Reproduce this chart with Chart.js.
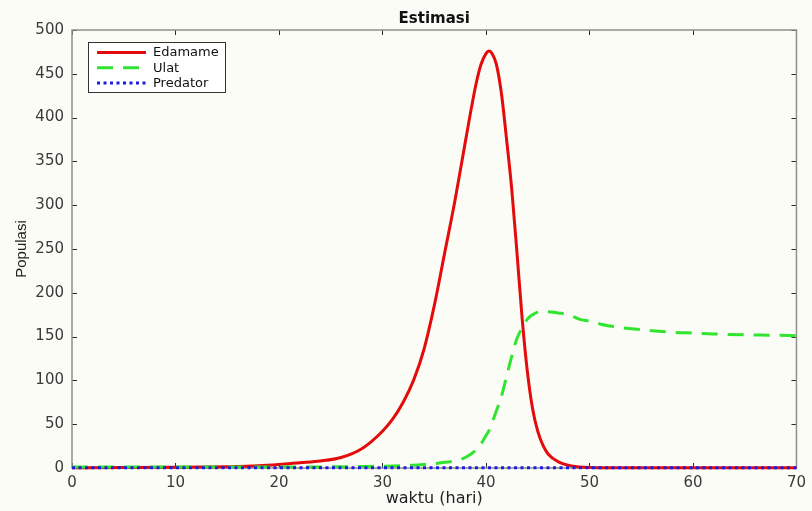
<!DOCTYPE html>
<html>
<head>
<meta charset="utf-8">
<script src="https://cdn.jsdelivr.net/npm/chart.js@4.4.0/dist/chart.umd.min.js"></script>
<style>
  html, body { margin: 0; padding: 0; background: #fcfcf7; }
  #wrap { width: 812px; height: 511px; }
</style>
</head>
<body>
<div id="wrap"><canvas id="grafik"></canvas></div>
<script>
// waktu (hari) dan populasi tiap spesies
var waktu = [0, 5, 10, 15, 18, 20, 22, 24, 26, 28, 30, 31, 32, 33, 34, 35, 36, 37, 38, 39, 39.5, 40, 40.3, 40.6, 41, 41.5, 42, 42.5, 43, 43.5, 44, 44.5, 45, 45.5, 46, 47, 48, 49, 50, 52, 55, 58, 60, 62, 65, 68, 70];
var edamame = [0.3, 0.5, 0.8, 1.5, 2.5, 4, 6, 8, 12, 22, 42, 56, 75, 100, 135, 185, 245, 305, 372, 436, 460, 473, 476, 473, 461, 427, 374, 317, 245, 170, 110, 68, 42, 26, 16, 7, 3, 1.2, 0.6, 0.4, 0.3, 0.3, 0.3, 0.3, 0.3, 0.3, 0.3];
var ulat = [1, 1, 1, 1, 1, 1, 1, 1.2, 1.4, 1.7, 2, 2.3, 2.7, 3.2, 4, 5, 6.5, 8, 12, 20, 27, 37, 43, 52, 65, 82, 105, 128, 148, 160, 170, 175, 178, 179, 178.5, 177, 175, 170, 167.5, 162, 158, 155, 154, 153, 152, 151.5, 151];
var predator = [0.3, 0.3, 0.3, 0.3, 0.3, 0.3, 0.3, 0.3, 0.3, 0.3, 0.3, 0.3, 0.3, 0.3, 0.3, 0.3, 0.3, 0.3, 0.3, 0.3, 0.3, 0.3, 0.3, 0.3, 0.3, 0.3, 0.3, 0.3, 0.3, 0.3, 0.3, 0.3, 0.3, 0.3, 0.3, 0.3, 0.3, 0.3, 0.3, 0.3, 0.3, 0.3, 0.3, 0.3, 0.3, 0.3, 0.3];

var xTicks = [0, 10, 20, 30, 40, 50, 60, 70];
var yTicks = [0, 50, 100, 150, 200, 250, 300, 350, 400, 450, 500];

function toPoints(ys) {
  return waktu.map(function(t, i) { return { x: t, y: ys[i] }; });
}

var tickFont = { family: 'DejaVu Sans', size: 15 };
var textColor = '#3a3a3a';

// kotak sumbu dengan tick ke dalam, judul dan legenda ala MATLAB
var kotakSumbu = {
  id: 'kotakSumbu',
  beforeDatasetsDraw: function(chart) {
    var ctx = chart.ctx, a = chart.chartArea;
    var sx = chart.scales.x, sy = chart.scales.y;
    ctx.save();
    ctx.strokeStyle = '#2b2b2b';
    ctx.lineWidth = 1;
    xTicks.forEach(function(v) {
      var px = Math.round(sx.getPixelForValue(v)) + 0.5;
      ctx.beginPath();
      ctx.moveTo(px, a.bottom); ctx.lineTo(px, a.bottom - 5);
      ctx.moveTo(px, a.top); ctx.lineTo(px, a.top + 5);
      ctx.stroke();
    });
    yTicks.forEach(function(v) {
      var py = Math.round(sy.getPixelForValue(v)) + 0.5;
      ctx.beginPath();
      ctx.moveTo(a.left, py); ctx.lineTo(a.left + 5, py);
      ctx.moveTo(a.right, py); ctx.lineTo(a.right - 5, py);
      ctx.stroke();
    });
    ctx.strokeStyle = '#8e8e8e';
    ctx.lineWidth = 1.5;
    ctx.strokeRect(a.left, a.top, a.right - a.left, a.bottom - a.top);
    ctx.restore();
  },
  afterDraw: function(chart) {
    var ctx = chart.ctx, a = chart.chartArea;
    ctx.save();
    // judul
    ctx.fillStyle = '#111';
    ctx.font = 'bold 15px "DejaVu Sans"';
    ctx.textAlign = 'center';
    ctx.textBaseline = 'middle';
    ctx.fillText('Estimasi', (a.left + a.right) / 2, 19);

    // legenda
    var bx = a.left + 16, by = a.top + 12, bw = 137, bh = 50;
    ctx.fillStyle = '#ffffff';
    ctx.fillRect(bx, by, bw, bh);
    ctx.strokeStyle = '#333';
    ctx.lineWidth = 1;
    ctx.strokeRect(bx + 0.5, by + 0.5, bw, bh);
    ctx.font = '13px "DejaVu Sans"';
    ctx.textAlign = 'left';
    chart.data.datasets.forEach(function(ds, i) {
      var y = by + 10.5 + i * 15.2;
      ctx.beginPath();
      ctx.setLineDash(ds.borderDash || []);
      ctx.strokeStyle = ds.borderColor;
      ctx.lineWidth = ds.borderWidth;
      ctx.moveTo(bx + 9, y);
      ctx.lineTo(bx + 58, y);
      ctx.stroke();
      ctx.setLineDash([]);
      ctx.fillStyle = '#111';
      ctx.fillText(ds.label, bx + 65, y + 0.5);
    });
    ctx.restore();
  }
};

new Chart(document.getElementById('grafik').getContext('2d'), {
  type: 'line',
  data: {
    datasets: [
      { label: 'Edamame', data: toPoints(edamame), borderColor: '#e30b0b', borderWidth: 3, pointRadius: 0, cubicInterpolationMode: 'monotone', clip: 4, order: 3 },
      { label: 'Ulat', data: toPoints(ulat), borderColor: '#2fe52f', borderWidth: 3, borderDash: [16, 10], pointRadius: 0, cubicInterpolationMode: 'monotone', clip: 4, order: 2 },
      { label: 'Predator', data: toPoints(predator), borderColor: '#1c1ce0', borderWidth: 3, borderDash: [3, 3.5], pointRadius: 0, clip: 4, order: 1 }
    ]
  },
  options: {
    responsive: true,
    maintainAspectRatio: false,
    animation: false,
    layout: { padding: { top: 30, right: 10, left: 0, bottom: 0 } },
    plugins: {
      legend: { display: false },
      tooltip: { enabled: false }
    },
    scales: {
      x: {
        type: 'linear',
        min: 0,
        max: 70,
        afterBuildTicks: function(s) { s.ticks = xTicks.map(function(v) { return { value: v }; }); },
        afterFit: function(s) { s.height = 43; },
        grid: { display: false, drawTicks: false },
        border: { display: false },
        ticks: { font: tickFont, color: textColor, padding: 6, maxRotation: 0 },
        title: { display: true, text: 'waktu (hari)', font: { family: 'DejaVu Sans', size: 16 }, color: '#222', padding: { top: 0, bottom: 3 } }
      },
      y: {
        min: 0,
        max: 500,
        afterBuildTicks: function(s) { s.ticks = yTicks.map(function(v) { return { value: v }; }); },
        afterFit: function(s) { s.width = 72; },
        grid: { display: false, drawTicks: false },
        border: { display: false },
        ticks: { font: tickFont, color: textColor, padding: 8 },
        title: { display: true, text: 'Populasi', font: { family: 'Liberation Sans', size: 15 }, color: '#222', padding: { top: 13, bottom: 0 } }
      }
    }
  },
  plugins: [kotakSumbu]
});
</script>
</body>
</html>
